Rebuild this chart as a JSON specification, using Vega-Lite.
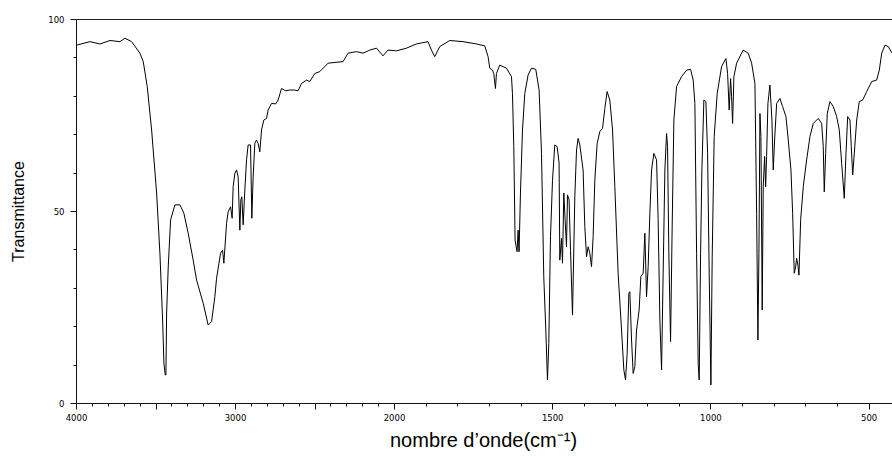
{
  "$schema": "https://vega.github.io/schema/vega-lite/v6.json",
  "width": 816,
  "height": 384,
  "autosize": "none",
  "padding": {"left": 76, "top": 19, "right": 0, "bottom": 53},
  "background": "white",
  "config": {
    "view": {"stroke": "#222", "strokeWidth": 1},
    "axis": {"grid": false, "domainColor": "#111", "tickColor": "#111", "labelColor": "#000", "titleColor": "#000"}
  },
  "data": {"values": [
    {"w":3995.6,"t":93.2},{"w":3912.0,"t":94.1},{"w":3849.2,"t":93.5},{"w":3786.4,"t":94.4},{"w":3723.5,"t":94.1},{"w":3692.1,"t":95.0},{"w":3650.2,"t":94.1},{"w":3597.9,"t":91.1},{"w":3577.1,"t":88.9},{"w":3551.9,"t":82.4},
    {"w":3524.4,"t":71.1},{"w":3493.0,"t":54.7},{"w":3472.2,"t":39.0},{"w":3455.2,"t":21.6},{"w":3447.1,"t":10.4},{"w":3438.9,"t":7.3},{"w":3434.5,"t":7.3},{"w":3430.1,"t":23.4},{"w":3420.0,"t":35.4},{"w":3405.0,"t":47.7},
    {"w":3377.9,"t":51.6},{"w":3346.5,"t":51.6},{"w":3321.4,"t":49.4},{"w":3294.4,"t":44.2},{"w":3262.9,"t":37.2},{"w":3241.6,"t":32.0},{"w":3200.1,"t":26.0},{"w":3168.7,"t":20.3},{"w":3147.3,"t":21.2},{"w":3126.6,"t":27.7},
    {"w":3115.9,"t":32.5},{"w":3090.8,"t":39.0},{"w":3078.2,"t":39.8},{"w":3070.0,"t":36.4},{"w":3053.0,"t":46.8},{"w":3043.0,"t":49.8},{"w":3027.9,"t":51.1},{"w":3017.9,"t":48.1},{"w":3011.6,"t":56.3},{"w":3000.9,"t":59.8},
    {"w":2990.2,"t":60.7},{"w":2980.2,"t":58.9},{"w":2969.5,"t":45.0},{"w":2963.2,"t":52.9},{"w":2956.9,"t":53.7},{"w":2948.7,"t":46.4},{"w":2938.1,"t":55.5},{"w":2927.4,"t":63.3},{"w":2917.4,"t":67.2},{"w":2902.3,"t":67.2},
    {"w":2894.1,"t":48.1},{"w":2885.9,"t":58.9},{"w":2875.3,"t":67.6},{"w":2864.6,"t":68.5},{"w":2854.5,"t":67.6},{"w":2843.9,"t":65.4},{"w":2833.2,"t":71.1},{"w":2818.7,"t":73.7},{"w":2801.7,"t":74.1},{"w":2791.7,"t":76.3},
    {"w":2770.3,"t":78.0},{"w":2743.3,"t":77.9},{"w":2728.8,"t":78.9},{"w":2707.5,"t":81.9},{"w":2680.5,"t":81.3},{"w":2655.4,"t":81.5},{"w":2624.0,"t":81.5},{"w":2603.3,"t":81.3},{"w":2581.8,"t":83.2},{"w":2550.4,"t":84.1},
    {"w":2529.7,"t":83.7},{"w":2498.3,"t":85.8},{"w":2466.8,"t":86.3},{"w":2414.7,"t":88.5},{"w":2320.4,"t":88.9},{"w":2289.0,"t":91.1},{"w":2236.3,"t":91.5},{"w":2194.7,"t":91.1},{"w":2152.6,"t":91.9},{"w":2110.6,"t":92.4},
    {"w":2069.1,"t":90.4},{"w":2037.7,"t":91.9},{"w":1992.4,"t":91.7},{"w":1960.8,"t":92.4},{"w":1929.2,"t":93.5},{"w":1892.5,"t":94.1},{"w":1881.7,"t":91.9},{"w":1871.3,"t":90.2},{"w":1855.5,"t":92.8},{"w":1823.8,"t":94.4},
    {"w":1781.8,"t":94.1},{"w":1739.4,"t":93.5},{"w":1713.2,"t":93.0},{"w":1702.7,"t":90.2},{"w":1697.3,"t":87.2},{"w":1688.8,"t":86.7},{"w":1684.7,"t":85.8},{"w":1679.3,"t":81.9},{"w":1676.2,"t":85.8},{"w":1665.7,"t":88.0},
    {"w":1644.5,"t":87.2},{"w":1628.7,"t":85.0},{"w":1625.6,"t":80.6},{"w":1621.4,"t":66.8},{"w":1617.3,"t":42.4},{"w":1611.0,"t":39.4},{"w":1607.8,"t":45.0},{"w":1604.7,"t":39.4},{"w":1600.3,"t":54.7},{"w":1593.9,"t":71.1},
    {"w":1586.6,"t":80.6},{"w":1576.2,"t":85.4},{"w":1565.5,"t":87.2},{"w":1551.9,"t":86.9},{"w":1541.4,"t":81.5},{"w":1533.8,"t":65.0},{"w":1526.6,"t":32.9},{"w":1520.2,"t":19.0},{"w":1514.9,"t":6.0},{"w":1510.7,"t":15.5},
    {"w":1505.4,"t":43.3},{"w":1499.0,"t":58.0},{"w":1491.8,"t":67.2},{"w":1484.5,"t":66.8},{"w":1478.2,"t":62.5},{"w":1476.0,"t":37.2},{"w":1470.6,"t":42.9},{"w":1467.4,"t":36.4},{"w":1463.3,"t":54.7},{"w":1459.2,"t":47.7},
    {"w":1454.8,"t":40.7},{"w":1451.6,"t":54.2},{"w":1446.6,"t":52.9},{"w":1442.1,"t":39.8},{"w":1435.8,"t":22.9},{"w":1428.5,"t":53.7},{"w":1423.1,"t":65.9},{"w":1418.1,"t":68.9},{"w":1412.7,"t":67.2},{"w":1402.3,"t":60.7},
    {"w":1396.9,"t":45.9},{"w":1391.5,"t":38.1},{"w":1386.4,"t":40.7},{"w":1381.1,"t":39.0},{"w":1375.7,"t":35.5},{"w":1370.6,"t":43.3},{"w":1365.3,"t":58.0},{"w":1357.9,"t":67.6},{"w":1349.4,"t":70.7},{"w":1340.9,"t":71.5},
    {"w":1333.6,"t":76.7},{"w":1326.4,"t":81.1},{"w":1317.8,"t":78.9},{"w":1309.3,"t":71.1},{"w":1302.0,"t":56.3},{"w":1291.6,"t":33.8},{"w":1280.8,"t":19.0},{"w":1273.5,"t":8.6},{"w":1268.2,"t":6.0},{"w":1263.1,"t":12.9},
    {"w":1257.7,"t":28.6},{"w":1254.6,"t":29.0},{"w":1249.2,"t":16.4},{"w":1244.1,"t":7.7},{"w":1238.8,"t":9.5},{"w":1233.4,"t":19.0},{"w":1225.2,"t":24.2},{"w":1219.8,"t":32.9},{"w":1212.5,"t":33.8},{"w":1207.1,"t":44.2},
    {"w":1201.8,"t":27.7},{"w":1196.7,"t":35.5},{"w":1191.3,"t":49.4},{"w":1185.9,"t":60.7},{"w":1178.7,"t":65.0},{"w":1170.1,"t":63.3},{"w":1165.1,"t":47.7},{"w":1159.7,"t":21.6},{"w":1154.3,"t":8.6},{"w":1149.3,"t":33.8},
    {"w":1143.9,"t":60.7},{"w":1138.5,"t":70.2},{"w":1135.4,"t":66.8},{"w":1131.3,"t":39.0},{"w":1125.9,"t":16.0},{"w":1120.8,"t":45.9},{"w":1115.4,"t":73.7},{"w":1106.9,"t":82.4},{"w":1091.1,"t":85.0},{"w":1075.3,"t":86.7},
    {"w":1062.6,"t":86.9},{"w":1054.4,"t":84.1},{"w":1049.0,"t":78.0},{"w":1043.6,"t":39.0},{"w":1038.6,"t":10.3},{"w":1035.4,"t":6.0},{"w":1031.0,"t":39.0},{"w":1026.9,"t":60.7},{"w":1020.6,"t":78.9},{"w":1014.2,"t":78.5},
    {"w":1008.8,"t":65.0},{"w":1003.8,"t":33.8},{"w":998.4,"t":4.7},{"w":994.3,"t":38.1},{"w":988.0,"t":69.4},{"w":978.5,"t":80.6},{"w":964.6,"t":87.6},{"w":951.0,"t":89.7},{"w":945.6,"t":85.8},{"w":940.6,"t":76.3},
    {"w":936.1,"t":84.5},{"w":933.0,"t":79.8},{"w":929.8,"t":72.8},{"w":925.7,"t":85.0},{"w":917.1,"t":88.5},{"w":896.3,"t":91.9},{"w":880.4,"t":91.1},{"w":869.7,"t":88.5},{"w":859.2,"t":83.2},{"w":853.9,"t":49.4},
    {"w":849.8,"t":16.4},{"w":846.6,"t":39.0},{"w":843.4,"t":75.4},{"w":840.3,"t":69.4},{"w":836.2,"t":24.2},{"w":833.0,"t":56.3},{"w":828.6,"t":64.2},{"w":825.4,"t":56.3},{"w":822.3,"t":64.2},{"w":818.2,"t":78.0},
    {"w":811.8,"t":82.8},{"w":805.5,"t":73.7},{"w":801.4,"t":60.7},{"w":797.0,"t":68.5},{"w":790.6,"t":78.0},{"w":780.2,"t":79.3},{"w":771.7,"t":77.2},{"w":761.2,"t":74.6},{"w":753.9,"t":68.5},{"w":745.4,"t":60.7},
    {"w":740.0,"t":49.4},{"w":735.0,"t":33.8},{"w":730.5,"t":35.5},{"w":727.4,"t":37.7},{"w":723.3,"t":35.9},{"w":720.1,"t":33.3},{"w":714.7,"t":47.7},{"w":706.5,"t":56.3},{"w":695.8,"t":63.3},{"w":685.3,"t":69.4},
    {"w":674.9,"t":72.8},{"w":659.1,"t":74.1},{"w":648.3,"t":72.8},{"w":643.3,"t":66.8},{"w":640.1,"t":55.0},{"w":635.7,"t":65.0},{"w":630.6,"t":75.4},{"w":622.1,"t":78.5},{"w":611.6,"t":77.2},{"w":600.9,"t":74.6},
    {"w":592.6,"t":71.1},{"w":585.1,"t":62.4},{"w":576.9,"t":53.3},{"w":571.4,"t":65.0},{"w":566.1,"t":74.6},{"w":558.8,"t":73.7},{"w":554.7,"t":66.8},{"w":550.2,"t":59.4},{"w":545.2,"t":65.0},{"w":537.6,"t":73.7},
    {"w":529.4,"t":78.5},{"w":518.6,"t":78.9},{"w":506.0,"t":81.1},{"w":490.2,"t":83.7},{"w":474.4,"t":84.1},{"w":466.1,"t":86.7},{"w":458.5,"t":91.1},{"w":448.1,"t":93.2},{"w":437.6,"t":92.8},{"w":425.9,"t":91.1}
  ]},
  "mark": {"type": "line", "color": "#000", "strokeWidth": 1, "clip": true},
  "encoding": {
    "x": {
      "field": "w", "type": "quantitative", "sort": null,
      "scale": {"domain": [4000, 2000, 426], "range": [0, 318, 816], "nice": false, "zero": false},
      "axis": {
        "values": [4000,3900,3800,3700,3600,3500,3400,3300,3200,3100,3000,2900,2800,2700,2600,2500,2400,2300,2200,2100,2000,1900,1800,1700,1600,1500,1400,1300,1200,1100,1000,900,800,700,600,500],
        "labelExpr": "(datum.value % 1000 === 0 || (datum.value < 2000 && datum.value % 500 === 0)) ? datum.value : ''",
        "tickSize": {"condition": {"test": "datum.value % 500 === 0", "value": 6}, "value": 3},
        "labelPadding": 4,
        "labelFont": "DejaVu Sans", "labelFontSize": 8.5, "labelFlush": false, "labelOverlap": false,
        "title": "nombre d’onde(cm⁻¹)",
        "titleFont": "Liberation Sans", "titleFontSize": 20, "titleFontWeight": "normal",
        "titleX": 407, "titleY": 37, "titleBaseline": "middle", "titleAlign": "center"
      }
    },
    "y": {
      "field": "t", "type": "quantitative",
      "scale": {"domain": [0, 100], "nice": false, "zero": false},
      "axis": {
        "values": [0,10,20,30,40,50,60,70,80,90,100],
        "labelExpr": "datum.value % 50 === 0 ? datum.value : ''",
        "tickSize": {"condition": {"test": "datum.value % 50 === 0", "value": 6}, "value": 3},
        "labelPadding": 6,
        "labelFont": "DejaVu Sans", "labelFontSize": 8.5, "labelOverlap": false, "labelFlush": false,
        "title": "Transmittance",
        "titleFont": "Liberation Sans", "titleFontSize": 16, "titleFontWeight": "normal",
        "titleX": -58, "titleY": 192, "titleAngle": -90, "titleBaseline": "middle", "titleAlign": "center"
      }
    }
  }
}
